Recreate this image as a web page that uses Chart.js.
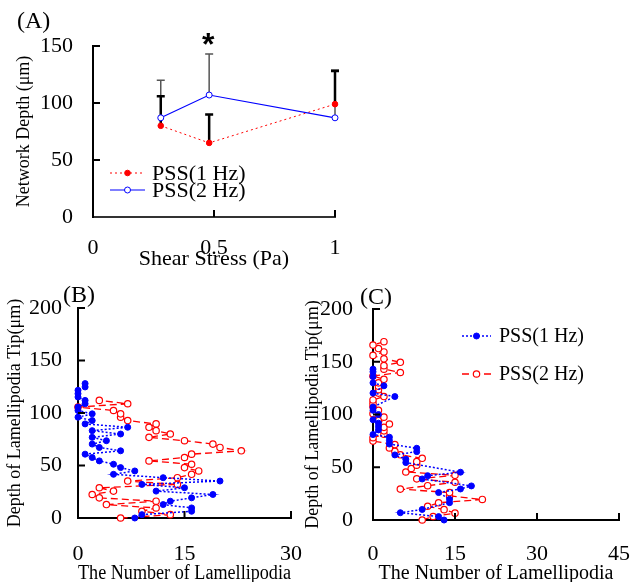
<!DOCTYPE html>
<html>
<head>
<meta charset="utf-8">
<script src="https://cdn.jsdelivr.net/npm/chart.js@4.4.0/dist/chart.umd.min.js"></script>
<style>
  html, body { margin: 0; padding: 0; background: #fff; }
  #wrap { position: relative; width: 637px; height: 582px; }
  canvas { position: absolute; left: 0; top: 0; }
</style>
</head>
<body>
<div id="wrap">
  <canvas id="chartA" width="637" height="582"></canvas>
  <canvas id="chartB" width="637" height="582"></canvas>
  <canvas id="chartC" width="637" height="582"></canvas>
</div>
<script>
// (A) network depth vs shear stress, mean + SD
const shearStress = [0.28, 0.48, 1.0];
const depth1Hz = [80, 65, 99];
const depth2Hz = [87, 107, 87];
const sd1Hz = [26, 25, 29];
const sd2Hz = [33, 36, 42];
const ticksAx = [0, 0.5, 1];
const ticksAy = [0, 50, 100, 150];

// (B) lamellipodia count per depth
const depthB = [0, 3.2, 6.4, 9.6, 12.8, 16, 19.2, 22.4, 25.6, 28.8, 32, 35.2, 38.4, 41.6, 44.8,
  48, 51.2, 54.4, 57.6, 60.8, 64, 67.2, 70.4, 73.6, 76.8, 80, 83.2, 86.4, 89.6, 92.8, 96, 99.2,
  102.4, 105.6, 108.8, 112, 115.2, 118.4, 121.6, 124.8, 128];
const countB1Hz = [8, 9, 16, 16, 12, 13, 16, 19, 11, 15, 9, 20, 12, 5, 8, 6, 5, 3, 2, 1, 6, 3, 2, 4,
  2, 6, 2, 7, 1, 2, 0, 2, 0, 0, 1, 1, 0, 0, 0, 1, 1];
const countB2Hz = [6, 13, 9, 11, 4, 11, 3, 2, 5, 3, 14, 7, 14, 16, 17, 15, 16, 10, 15, 16, 23, 20, 19,
  15, 10, 13, 11, 10, 11, 7, 6, 6, 5, 0, 7, 3];
const ticksBx = [0, 15, 30];
const ticksBy = [0, 50, 100, 150, 200];

// (C)
const depthC1Hz = [0, 3.2, 6.9, 10, 16.4, 19.6, 26, 29.4, 32.3, 38.9, 42, 45.3, 54.4, 57.6, 61.7,
  64.8, 68, 72, 75.3, 78.5, 81, 85.4, 88.6, 91.8, 95, 100, 104, 107, 117, 120.3, 127.2, 130, 136,
  140.5, 143];
const countC1Hz = [13, 12, 5, 9, 14, 14, 12, 16, 18, 9, 10, 16, 6, 6, 4, 8, 8, 3, 3, 3, 0, 1, 1, 1,
  0, 1, 0, 0, 4, 0, 2, 0, 0, 0, 0];
const depthC2Hz = [0, 3.3, 6.5, 9.8, 13, 16.3, 19.5, 22.8, 26, 29.3, 32.5, 35.8, 39, 42.3, 45.5,
  48.8, 52, 55.3, 58.5, 61.8, 65, 68.3, 71.5, 74.8, 78, 81.3, 84.5, 87.8, 91, 94.3, 97.5, 100.8,
  104, 107.3, 110.5, 113.8, 117, 120.3, 123.5, 126.8, 130, 133.3, 136.5, 139.8, 143, 146.3, 149.5,
  152.8, 156, 159.3, 162.5, 165.8, 169];
const countC2Hz = [9, 11, 15, 13, 10, 12, 20, 14, 14, 5, 10, 15, 8, 15, 6, 7, 8, 8, 9, 5, 4, 3, 4, 0,
  0, 2, 2, 2, 3, 1, 2, 0, 1, 0, 0, 0, 2, 1, 1, 1, 1, 2, 0, 5, 2, 2, 5, 2, 0, 2, 1, 0, 2];
const ticksCx = [0, 15, 30, 45];
const ticksCy = [0, 50, 100, 150, 200];

const W = 637, H = 582;
const SERIF = '"Liberation Serif", "Times New Roman", serif';
const RED = '#ff0000', BLUE = '#0000ff';

const pts = (xs, ys) => xs.map((x, i) => ({ x: x, y: ys[i] }));

// error bars, inward tick marks, legends and free labels
const decor = {
  id: 'decor',
  beforeDatasetsDraw(chart, args, o) {
    const { ctx, scales: { x, y } } = chart;
    (o.errorBars || []).forEach(b => {
      ctx.save();
      ctx.strokeStyle = b.color;
      ctx.lineWidth = b.width;
      b.xs.forEach((xv, i) => {
        const px = x.getPixelForValue(xv);
        const y0 = y.getPixelForValue(b.ys[i]);
        const y1 = y.getPixelForValue(b.ys[i] + b.err[i]);
        ctx.beginPath();
        ctx.moveTo(px, y0);
        ctx.lineTo(px, y1);
        ctx.moveTo(px - 4, y1);
        ctx.lineTo(px + 4, y1);
        ctx.stroke();
      });
      ctx.restore();
    });
  },
  afterDraw(chart, args, o) {
    const { ctx, chartArea: a, scales: { x, y } } = chart;
    ctx.save();
    ctx.strokeStyle = '#000';
    ctx.lineWidth = 2;
    ctx.beginPath();
    x.ticks.forEach(t => {
      if (t.value === x.min) return;
      const px = x.getPixelForValue(t.value);
      ctx.moveTo(px, a.bottom);
      ctx.lineTo(px, a.bottom - 7);
    });
    y.ticks.forEach(t => {
      if (t.value === y.min) return;
      const py = y.getPixelForValue(t.value);
      ctx.moveTo(a.left, py);
      ctx.lineTo(a.left + 7, py);
    });
    ctx.stroke();

    (o.legend || []).forEach(it => {
      const ds = chart.data.datasets[it.ds];
      ctx.save();
      ctx.strokeStyle = ds.borderColor;
      ctx.lineWidth = ds.borderWidth;
      ctx.setLineDash(ds.borderDash || []);
      ctx.beginPath();
      ctx.moveTo(it.x1, it.y);
      ctx.lineTo(it.x2, it.y);
      ctx.stroke();
      ctx.setLineDash([]);
      ctx.beginPath();
      ctx.arc((it.x1 + it.x2) / 2, it.y, ds.pointRadius, 0, Math.PI * 2);
      ctx.fillStyle = ds.pointBackgroundColor;
      ctx.fill();
      ctx.lineWidth = ds.pointBorderWidth;
      ctx.strokeStyle = ds.pointBorderColor;
      ctx.stroke();
      ctx.fillStyle = '#000';
      ctx.font = it.font;
      ctx.textAlign = 'left';
      ctx.textBaseline = 'middle';
      ctx.fillText(ds.label, it.tx, it.y + 1);
      ctx.restore();
    });

    (o.texts || []).forEach(t => {
      ctx.fillStyle = '#000';
      ctx.font = t.font;
      ctx.textAlign = 'left';
      ctx.textBaseline = 'middle';
      ctx.fillText(t.text, t.x, t.y);
    });
    ctx.restore();
  }
};

function zeroPad(s) {
  s.paddingLeft = 0; s.paddingRight = 0; s.paddingTop = 0; s.paddingBottom = 0;
}

function panel(id, p) {
  return new Chart(document.getElementById(id), {
    type: 'scatter',
    data: { datasets: p.datasets },
    options: {
      responsive: false,
      animation: false,
      events: [],
      layout: {
        padding: {
          left: p.boxLeft,
          top: p.area.top,
          right: W - p.area.right,
          bottom: H - p.area.bottom - p.xBoxH
        }
      },
      plugins: {
        legend: { display: false },
        tooltip: { enabled: false },
        decor: p.decor
      },
      scales: {
        x: {
          type: 'linear',
          min: p.xTicks[0],
          max: p.xTicks[p.xTicks.length - 1],
          afterBuildTicks: s => { s.ticks = p.xTicks.map(v => ({ value: v })); },
          afterFit: s => { s.height = p.xBoxH; zeroPad(s); },
          grid: { display: false, drawTicks: false },
          border: { color: p.xAxisColor || '#000', width: 2 },
          ticks: {
            padding: p.xTickPad, color: '#000', maxRotation: 0,
            font: { family: SERIF, size: p.tickSize },
            callback: v => String(v)
          },
          title: {
            display: true, text: p.xTitle, color: '#000',
            font: { family: SERIF, size: p.xTitleSize, lineHeight: p.xTitleLH },
            padding: { top: 0, bottom: p.xTitlePad }
          }
        },
        y: {
          type: 'linear',
          min: p.yTicks[0],
          max: p.yTicks[p.yTicks.length - 1],
          afterBuildTicks: s => { s.ticks = p.yTicks.map(v => ({ value: v })); },
          afterFit: s => { s.width = p.area.left - p.boxLeft; zeroPad(s); },
          grid: { display: false, drawTicks: false },
          border: { color: '#000', width: 2 },
          ticks: {
            padding: p.yTickPad, color: '#000',
            font: { family: SERIF, size: p.tickSize },
            callback: v => String(v)
          },
          title: {
            display: true, text: p.yTitle, color: '#000',
            font: { family: SERIF, size: p.yTitleSize },
            padding: { top: p.yTitlePad, bottom: 0 }
          }
        }
      }
    },
    plugins: [decor]
  });
}

function series(label, data, filled, color, dash, width) {
  return {
    label: label,
    data: data,
    showLine: true,
    clip: false,
    borderColor: color,
    borderWidth: width,
    borderDash: dash,
    pointRadius: filled ? 3 : 3.2,
    pointBorderWidth: filled ? 1 : 1.2,
    pointBorderColor: color,
    pointBackgroundColor: filled ? color : '#ffffff'
  };
}

// (A)
const dsA1 = series('PSS(1 Hz)', pts(shearStress, depth1Hz), true, RED, [2, 3], 1);
const dsA2 = series('PSS(2 Hz)', pts(shearStress, depth2Hz), false, BLUE, [], 1.2);
dsA1.pointRadius = 2.8; dsA2.pointRadius = 3; dsA2.pointBorderWidth = 1;
panel('chartA', {
  datasets: [dsA2, dsA1],
  area: { left: 93, top: 46, right: 335, bottom: 217 },
  boxLeft: 0, xBoxH: 70,
  xTicks: ticksAx, yTicks: ticksAy,
  xAxisColor: '#333',
  tickSize: 22, xTickPad: 18, yTickPad: 20,
  xTitle: 'Shear Stress (Pa)', xTitleSize: 22, xTitleLH: 1.2, xTitlePad: 15,
  yTitle: 'Network Depth (μm)', yTitleSize: 18, yTitlePad: 13,
  decor: {
    errorBars: [
      { xs: shearStress, ys: depth2Hz, err: sd2Hz, color: '#555', width: 1.5 },
      { xs: shearStress, ys: depth1Hz, err: sd1Hz, color: '#000', width: 2.5 }
    ],
    legend: [
      { ds: 1, x1: 110, x2: 145, y: 173, tx: 152, font: '22px ' + SERIF },
      { ds: 0, x1: 110, x2: 145, y: 190, tx: 152, font: '22px ' + SERIF }
    ],
    texts: [
      { text: '(A)', x: 17, y: 22, font: '24px ' + SERIF },
      { text: '*', x: 202, y: 46, font: 'bold 32px "Liberation Sans", sans-serif' }
    ]
  }
});

// (B)
panel('chartB', {
  datasets: [
    series('PSS(1 Hz)', pts(countB1Hz, depthB), true, BLUE, [2, 2], 1.5),
    series('PSS(2 Hz)', pts(countB2Hz, depthB), false, RED, [7, 4], 1.3)
  ],
  area: { left: 78, top: 308, right: 291, bottom: 518 },
  boxLeft: 0, xBoxH: 64,
  xTicks: ticksBx, yTicks: ticksBy,
  tickSize: 22, xTickPad: 23, yTickPad: 16,
  xTitle: 'The Number of Lamellipodia', xTitleSize: 20, xTitleLH: 0.8, xTitlePad: 0,
  yTitle: 'Depth of Lamellipodia Tip(μm)', yTitleSize: 18, yTitlePad: 4,
  decor: {
    texts: [{ text: '(B)', x: 63, y: 296, font: '24px ' + SERIF }]
  }
});

// (C)
panel('chartC', {
  datasets: [
    series('PSS(1 Hz)', pts(countC1Hz, depthC1Hz), true, BLUE, [2, 2], 1.5),
    series('PSS(2 Hz)', pts(countC2Hz, depthC2Hz), false, RED, [7, 4], 1.3)
  ],
  area: { left: 373, top: 309, right: 619, bottom: 520 },
  boxLeft: 300, xBoxH: 62,
  xTicks: ticksCx, yTicks: ticksCy,
  tickSize: 22, xTickPad: 21, yTickPad: 20,
  xTitle: 'The Number of Lamellipodia', xTitleSize: 20, xTitleLH: 0.8, xTitlePad: 0,
  yTitle: 'Depth of Lamellipodia Tip(μm)', yTitleSize: 18, yTitlePad: 2,
  decor: {
    legend: [
      { ds: 0, x1: 462, x2: 491, y: 336, tx: 499, font: '20px ' + SERIF },
      { ds: 1, x1: 462, x2: 491, y: 374, tx: 499, font: '20px ' + SERIF }
    ],
    texts: [{ text: '(C)', x: 360, y: 298, font: '24px ' + SERIF }]
  }
});
</script>
</body>
</html>
